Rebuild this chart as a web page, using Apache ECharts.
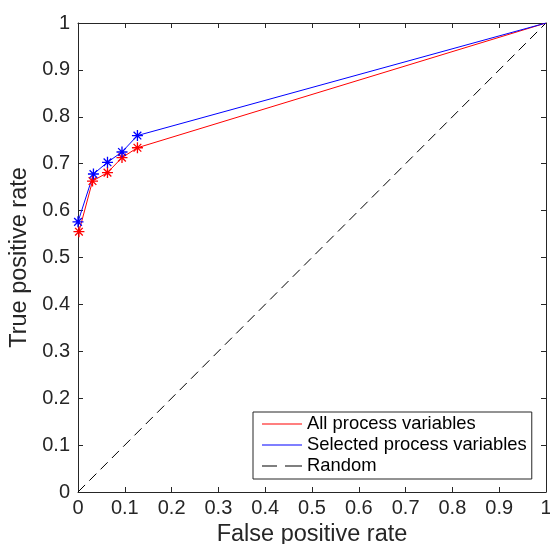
<!DOCTYPE html>
<html>
<head>
<meta charset="utf-8">
<script src="https://cdn.jsdelivr.net/npm/echarts@6/dist/echarts.min.js"></script>
<style>
  html, body { margin: 0; padding: 0; background: #fff; }
  #chart { width: 550px; height: 544px; }
</style>
</head>
<body>
<div id="chart"></div>
<script>
// ROC curves: false positive rate vs true positive rate
const fprAll = [0.002, 0.031, 0.063, 0.094, 0.127, 1];
const tprAll = [0.555, 0.663, 0.681, 0.713, 0.734, 1];
const fprSelected = [0, 0.033, 0.063, 0.094, 0.127, 1];
const tprSelected = [0.576, 0.678, 0.703, 0.725, 0.760, 1];
const fprRandom = [0, 1];
const tprRandom = [0, 1];
const seriesNames = ['All process variables', 'Selected process variables', 'Random'];

const FONT = '"Liberation Sans", Arial, Helvetica, sans-serif';
const INK = '#262626';
const ASTERISK = 'path://M0,-10L0,10M-10,0L10,0M-7,-7L7,7M-7,7L7,-7';

// Pair x/y arrays; the closing (1,1) point carries no marker
function rocPoints(xs, ys) {
  return xs.map((x, i) => {
    const item = { value: [x, ys[i]] };
    if (i === xs.length - 1) item.symbol = 'none';
    return item;
  });
}

function rocSeries(name, xs, ys, color) {
  return {
    name: name,
    type: 'line',
    xAxisIndex: 0,
    yAxisIndex: 0,
    data: rocPoints(xs, ys),
    symbol: ASTERISK,
    symbolSize: 11,
    showAllSymbol: true,
    lineStyle: { color: color, width: 1 },
    itemStyle: { color: color, borderColor: color, borderWidth: 1.3 },
    emphasis: { disabled: true },
    animation: false
  };
}

const mainAxisCommon = {
  min: 0,
  max: 1,
  interval: 0.1,
  axisLine: { show: true, onZero: false, lineStyle: { color: INK, width: 1 } },
  axisTick: { show: true, inside: true, length: 5, lineStyle: { color: INK } },
  splitLine: { show: false },
  axisLabel: { color: INK, fontSize: 20, fontFamily: FONT },
  nameLocation: 'middle',
  nameTextStyle: { color: INK, fontSize: 23.5, fontFamily: FONT }
};

const boxAxisCommon = {
  min: 0,
  max: 1,
  interval: 0.1,
  axisLine: { show: true, onZero: false, lineStyle: { color: INK, width: 1 } },
  axisTick: { show: true, inside: true, length: 5, lineStyle: { color: INK } },
  splitLine: { show: false },
  axisLabel: { show: false }
};

const chart = echarts.init(document.getElementById('chart'), null, { renderer: 'canvas' });

chart.setOption({
  backgroundColor: '#ffffff',
  animation: false,
  grid: { left: 78, right: 4, top: 23, bottom: 52, containLabel: false, outerBoundsMode: 'none' },
  xAxis: [
    Object.assign({}, mainAxisCommon, {
      type: 'value', position: 'bottom',
      name: 'False positive rate', nameGap: 27,
      axisLabel: Object.assign({}, mainAxisCommon.axisLabel, { margin: 6 })
    }),
    Object.assign({}, boxAxisCommon, { type: 'value', position: 'top' })
  ],
  yAxis: [
    Object.assign({}, mainAxisCommon, {
      type: 'value', position: 'left',
      name: 'True positive rate', nameGap: 44,
      axisLabel: Object.assign({}, mainAxisCommon.axisLabel, { margin: 8 })
    }),
    Object.assign({}, boxAxisCommon, { type: 'value', position: 'right' })
  ],
  legend: {
    orient: 'vertical',
    left: 253,
    top: 412,
    padding: [3, 5, 4, 9],
    itemGap: 3,
    itemWidth: 40,
    itemHeight: 1,
    backgroundColor: '#ffffff',
    borderColor: INK,
    borderWidth: 1,
    selectedMode: false,
    textStyle: { color: '#000', fontSize: 18.4, fontFamily: FONT, lineHeight: 18 },
    itemStyle: { borderWidth: 0 },
    data: [
      { name: seriesNames[0], icon: 'path://M0,0H40V1H0Z' },
      { name: seriesNames[1], icon: 'path://M0,0H40V1H0Z' },
      { name: seriesNames[2], icon: 'path://M0,0H15V1H0ZM23,0H40V1H23Z' }
    ]
  },
  series: [
    {
      name: seriesNames[2],
      type: 'line',
      data: fprRandom.map((x, i) => [x, tprRandom[i]]),
      symbol: 'none',
      lineStyle: { color: '#000', width: 1, type: [10, 6] },
      itemStyle: { color: '#000' },
      emphasis: { disabled: true },
      animation: false
    },
    rocSeries(seriesNames[0], fprAll, tprAll, '#ff0000'),
    rocSeries(seriesNames[1], fprSelected, tprSelected, '#0000ff')
  ]
});
</script>
</body>
</html>
